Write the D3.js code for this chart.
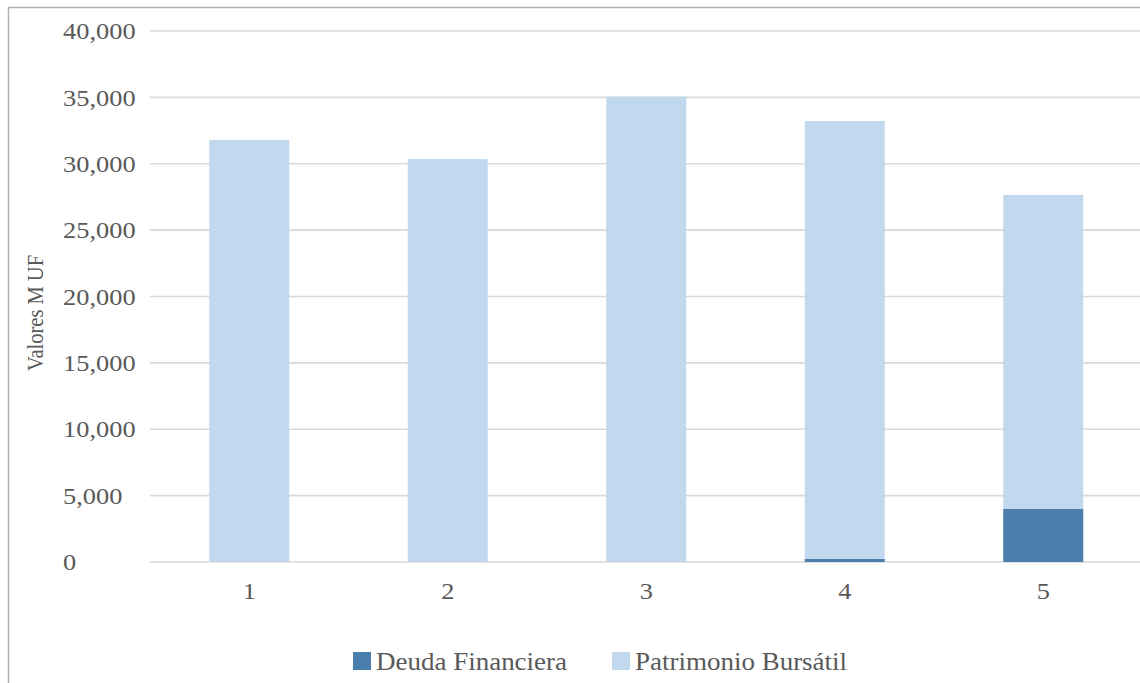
<!DOCTYPE html>
<html>
<head>
<meta charset="utf-8">
<script src="https://cdn.jsdelivr.net/npm/d3@7"></script>
<style>
  html, body { margin: 0; padding: 0; background: #fff; }
  svg { display: block; }
</style>
</head>
<body>
<svg id="chart" width="1140" height="683"></svg>
<script>
// Periods on the x axis
const categories = ["1", "2", "3", "4", "5"];
// Stacked series, in thousands of UF
const deudaFinanciera = [0, 0, 0, 230, 4000];
const patrimonioBursatil = [31800, 30350, 35050, 32990, 23650];
// Y axis tick values
const yTicks = [0, 5000, 10000, 15000, 20000, 25000, 30000, 35000, 40000];

const seriesNames = ["Deuda Financiera", "Patrimonio Bursátil"];
const seriesColors = ["#4a7ead", "#c2d8ee"];

const svg = d3.select("#chart");
const W = 1140, H = 683;
const plot = { left: 150, right: 1142.5, top: 31, bottom: 562 };
const serif = "'Liberation Serif', 'Times New Roman', serif";
const textColor = "#595959";
const wide = 1.1; // horizontal widening applied to labels

// Outer chart border (runs past the right and bottom edges)
svg.append("rect")
  .attr("x", 8.5).attr("y", 7.5)
  .attr("width", W + 20).attr("height", H + 20)
  .attr("fill", "#fff")
  .attr("stroke", "#b0b0b0")
  .attr("stroke-width", 1.5);

const x = d3.scaleBand()
  .domain(categories)
  .range([plot.left, plot.right])
  .paddingInner(0.597)
  .paddingOuter(0.2985);

const y = d3.scaleLinear()
  .domain([0, 40000])
  .range([plot.bottom, plot.top]);

const fmt = d3.format(",");

// Horizontal gridlines
svg.append("g")
  .selectAll("line")
  .data(yTicks)
  .join("line")
  .attr("x1", plot.left)
  .attr("x2", W)
  .attr("y1", d => y(d))
  .attr("y2", d => y(d))
  .attr("stroke", "#d9d9d9")
  .attr("stroke-width", 1.6);

// Y tick labels, left aligned
svg.append("g")
  .selectAll("text")
  .data(yTicks)
  .join("text")
  .attr("transform", d => `translate(63,${y(d)}) scale(${wide},1)`)
  .attr("dy", "0.34em")
  .attr("font-family", serif)
  .attr("font-size", 24)
  .attr("fill", textColor)
  .text(d => fmt(d));

// Stacked bars
const table = categories.map((c, i) => ({
  cat: c,
  "Deuda Financiera": deudaFinanciera[i],
  "Patrimonio Bursátil": patrimonioBursatil[i]
}));
const stack = d3.stack().keys(seriesNames)(table);

svg.append("g")
  .selectAll("g")
  .data(stack)
  .join("g")
  .attr("fill", (d, i) => seriesColors[i])
  .selectAll("rect")
  .data(d => d)
  .join("rect")
  .attr("x", d => x(d.data.cat))
  .attr("width", x.bandwidth())
  .attr("y", d => y(d[1]))
  .attr("height", d => y(d[0]) - y(d[1]));

// X category labels
svg.append("g")
  .selectAll("text")
  .data(categories)
  .join("text")
  .attr("transform", d => `translate(${x(d) + x.bandwidth() / 2},599) scale(${wide},1)`)
  .attr("text-anchor", "middle")
  .attr("font-family", serif)
  .attr("font-size", 24)
  .attr("fill", textColor)
  .text(d => d);

// Y axis title
svg.append("text")
  .attr("transform", `translate(43,313) scale(${wide},1) rotate(-90)`)
  .attr("text-anchor", "middle")
  .attr("font-family", serif)
  .attr("font-size", 20.5)
  .attr("fill", textColor)
  .text("Valores M UF");

// Legend
const legendItems = [
  { name: seriesNames[0], color: seriesColors[0], x: 353 },
  { name: seriesNames[1], color: seriesColors[1], x: 612 }
];
const lg = svg.append("g")
  .selectAll("g")
  .data(legendItems)
  .join("g")
  .attr("transform", d => `translate(${d.x},652)`);
lg.append("rect")
  .attr("width", 18).attr("height", 18)
  .attr("fill", d => d.color);
lg.append("text")
  .attr("transform", `translate(23,17.5) scale(1.08,1)`)
  .attr("font-family", serif)
  .attr("font-size", 25)
  .attr("fill", textColor)
  .text(d => d.name);
</script>
</body>
</html>
